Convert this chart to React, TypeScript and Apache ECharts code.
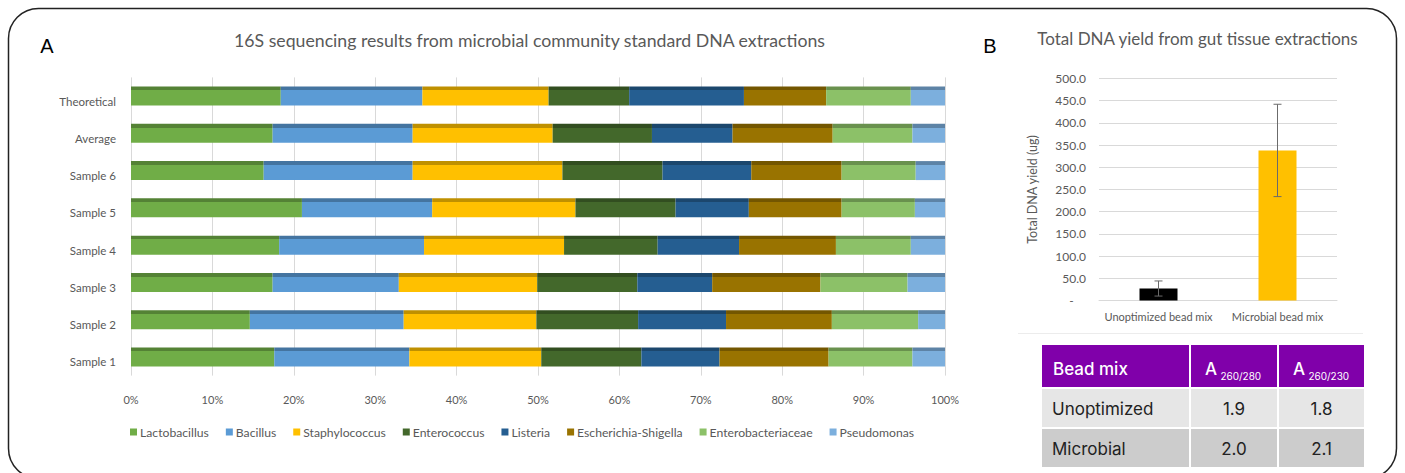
import React, { useEffect, useRef } from 'react';
import * as echarts from 'echarts';

// ---------- Panel A data ----------
const categories = ['Theoretical', 'Average', 'Sample 6', 'Sample 5', 'Sample 4', 'Sample 3', 'Sample 2', 'Sample 1'];
const lactobacillus = [18.4, 17.4, 16.3, 21.0, 18.2, 17.4, 14.6, 17.6];
const bacillus = [17.4, 17.2, 18.3, 16.0, 17.8, 15.5, 18.9, 16.6];
const staphylococcus = [15.5, 17.2, 18.4, 17.6, 17.2, 17.0, 16.3, 16.2];
const enterococcus = [9.9, 12.2, 12.3, 12.3, 11.5, 12.3, 12.5, 12.3];
const listeria = [14.1, 9.9, 10.9, 9.0, 10.0, 9.2, 10.8, 9.6];
const escherichiaShigella = [10.1, 12.3, 11.1, 11.4, 11.9, 13.3, 13.0, 13.4];
const enterobacteriaceae = [10.4, 9.8, 9.1, 9.0, 9.2, 10.7, 10.6, 10.3];
const pseudomonas = [4.2, 4.0, 3.6, 3.7, 4.2, 4.6, 3.3, 4.0];
const taxaNames = ['Lactobacillus', 'Bacillus', 'Staphylococcus', 'Enterococcus', 'Listeria', 'Escherichia-Shigella', 'Enterobacteriaceae', 'Pseudomonas'];
const taxaValues = [lactobacillus, bacillus, staphylococcus, enterococcus, listeria, escherichiaShigella, enterobacteriaceae, pseudomonas];
const taxaColors = ['#70AD47', '#5B9BD5', '#FFC000', '#43682B', '#255E91', '#997300', '#8CC168', '#7CAFDD'];
const percentTicks = [0, 10, 20, 30, 40, 50, 60, 70, 80, 90, 100];

// ---------- Panel B data ----------
const yieldCategories = ['Unoptimized bead mix', 'Microbial bead mix'];
const yieldMeans = [27, 338];
const yieldErrors = [17, 104];
const yieldColors = ['#000000', '#FFC000'];
const yieldTicks = [0, 50, 100, 150, 200, 250, 300, 350, 400, 450, 500];

// ---------- Table data ----------
const tableHeaderMain = ['Bead mix', 'A', 'A'];
const tableHeaderSub = ['', '260/280', '260/230'];
const tableRows = [
  ['Unoptimized', '1.9', '1.8'],
  ['Microbial', '2.0', '2.1'],
];

const GRAY = '#595959';
const FONT_A = 'Lato, "Open Sans", sans-serif';
const FONT_T = 'Inter, "Open Sans", sans-serif';

function darker(hex: string, f: number) {
  const n = parseInt(hex.slice(1), 16);
  const r = Math.round(((n >> 16) & 255) * f);
  const g = Math.round(((n >> 8) & 255) * f);
  const b = Math.round((n & 255) * f);
  return `rgb(${r},${g},${b})`;
}

function buildTable() {
  const colX = [1042, 1191, 1279];
  const colW = [147, 86, 85];
  const rowY = [345, 389, 429];
  const rowH = [42, 38, 38];
  const rowFill = ['#8000AA', '#E6E6E6', '#CCCCCC'];
  const els: any[] = [];
  for (let r = 0; r < 3; r++) {
    for (let c = 0; c < 3; c++) {
      els.push({
        type: 'rect',
        shape: { x: colX[c], y: rowY[r], width: colW[c], height: rowH[r] },
        style: { fill: rowFill[r] },
      });
    }
  }
  for (let c = 0; c < 3; c++) {
    const sub = tableHeaderSub[c];
    els.push({
      type: 'text',
      x: c === 0 ? colX[c] + 11 : colX[c] + 14,
      y: rowY[0] + rowH[0] / 2 + 1,
      style: {
        text: sub ? `{m|${tableHeaderMain[c]}} {s|${sub}}` : `{m|${tableHeaderMain[c]}}`,
        verticalAlign: 'middle',
        align: 'left',
        rich: {
          m: { fontSize: 17, fontFamily: FONT_T, fontWeight: 500, fill: '#ffffff', color: '#ffffff', verticalAlign: 'bottom', lineHeight: 20 },
          s: { fontSize: 10, fontFamily: FONT_T, fill: '#ffffff', color: '#ffffff', verticalAlign: 'bottom', lineHeight: 12, padding: [0, 0, -4, 0] },
        },
      },
    });
  }
  tableRows.forEach((row, i) => {
    const r = i + 1;
    row.forEach((cell, c) => {
      els.push({
        type: 'text',
        x: c === 0 ? colX[c] + 10 : colX[c] + colW[c] / 2,
        y: rowY[r] + rowH[r] / 2 + 1,
        style: {
          text: cell,
          fontSize: 17,
          fontFamily: FONT_T,
          fill: '#222222',
          align: c === 0 ? 'left' : 'center',
          verticalAlign: 'middle',
        },
      });
    });
  });
  return els;
}

export default function App() {
  const ref = useRef<HTMLDivElement>(null);
  useEffect(() => {
    document.body.style.margin = '0';
    const chart = echarts.init(ref.current!, null, { renderer: 'svg' });

    const barSeries = taxaNames.map((name, i) => ({
      name,
      type: 'bar',
      stack: 'taxa',
      xAxisIndex: 0,
      yAxisIndex: 0,
      barWidth: 19,
      data: taxaValues[i],
      itemStyle: {
        color: new echarts.graphic.LinearGradient(0, 0, 0, 1, [
          { offset: 0, color: darker(taxaColors[i], 0.75) },
          { offset: 0.2, color: darker(taxaColors[i], 0.75) },
          { offset: 0.2, color: taxaColors[i] },
          { offset: 1, color: taxaColors[i] },
        ]),
      },
    }));

    const option: any = {
      animation: false,
      backgroundColor: '#ffffff',
      textStyle: { fontFamily: FONT_A },
      legend: {
        data: taxaNames.map((n, i) => ({ name: n, itemStyle: { color: taxaColors[i] } })),
        left: 125,
        top: 421,
        icon: 'rect',
        itemWidth: 7,
        itemHeight: 7,
        itemGap: 17,
        textStyle: { fontSize: 12.2, color: GRAY, fontFamily: FONT_A, padding: [0, 0, 0, -2] },
      },
      grid: [
        { left: 131, right: 460, top: 77.4, bottom: 97.4 },
        { left: 1099, right: 68, top: 78.5, bottom: 172.5 },
      ],
      xAxis: [
        {
          type: 'value',
          gridIndex: 0,
          min: percentTicks[0],
          max: percentTicks[percentTicks.length - 1],
          interval: 10,
          axisLine: { show: false },
          axisTick: { show: false },
          splitLine: { lineStyle: { color: '#d9d9d9', width: 1 } },
          axisLabel: { formatter: '{value}%', color: GRAY, fontSize: 11, fontFamily: FONT_A, margin: 18 },
        },
        {
          type: 'category',
          gridIndex: 1,
          data: yieldCategories,
          axisLine: { lineStyle: { color: '#d9d9d9' } },
          axisTick: { show: false },
          axisLabel: { color: GRAY, fontSize: 11, fontFamily: FONT_A, margin: 10, interval: 0, hideOverlap: false },
        },
      ],
      yAxis: [
        {
          type: 'category',
          gridIndex: 0,
          data: categories,
          inverse: true,
          axisLine: { show: false },
          axisTick: { show: false },
          axisLabel: { color: GRAY, fontSize: 11.5, fontFamily: FONT_A, margin: 15, verticalAlign: 'top', lineHeight: 10 },
        },
        {
          type: 'value',
          gridIndex: 1,
          min: yieldTicks[0],
          max: yieldTicks[yieldTicks.length - 1],
          interval: 50,
          name: 'Total DNA yield (ug)',
          nameLocation: 'middle',
          nameGap: 60,
          nameRotate: 90,
          nameTextStyle: { color: GRAY, fontSize: 12.5, fontFamily: FONT_A },
          axisLine: { show: false },
          axisTick: { show: false },
          splitLine: { lineStyle: { color: '#d9d9d9' } },
          axisLabel: {
            color: GRAY,
            fontSize: 12,
            fontFamily: FONT_A,
            margin: 13,
            formatter: (v: number) => (v === 0 ? '-    ' : v.toFixed(1)),
          },
        },
      ],
      series: [
        ...barSeries,
        {
          name: 'Total DNA yield',
          type: 'bar',
          xAxisIndex: 1,
          yAxisIndex: 1,
          barWidth: 38,
          data: yieldMeans.map((v, i) => ({ value: v, itemStyle: { color: yieldColors[i] } })),
        },
        {
          name: 'Error',
          type: 'custom',
          xAxisIndex: 1,
          yAxisIndex: 1,
          z: 10,
          data: yieldMeans.map((m, i) => [i, m - yieldErrors[i], m + yieldErrors[i]]),
          renderItem: (params: any, api: any) => {
            const x = api.value(0);
            const lo = api.coord([x, api.value(1)]);
            const hi = api.coord([x, api.value(2)]);
            const cap = 4;
            const style = { stroke: '#6b6b6b', lineWidth: 1 };
            return {
              type: 'group',
              children: [
                { type: 'line', shape: { x1: hi[0], y1: hi[1], x2: lo[0], y2: lo[1] }, style },
                { type: 'line', shape: { x1: hi[0] - cap, y1: hi[1], x2: hi[0] + cap, y2: hi[1] }, style },
                { type: 'line', shape: { x1: lo[0] - cap, y1: lo[1], x2: lo[0] + cap, y2: lo[1] }, style },
              ],
            };
          },
        },
      ],
      graphic: [
        {
          type: 'rect',
          shape: { x: 8.5, y: 8.5, width: 1388, height: 470, r: 30 },
          style: { fill: 'none', stroke: '#222222', lineWidth: 1.5 },
          silent: true,
        },
        {
          type: 'text', x: 47, y: 46,
          style: { text: 'A', fontSize: 20, fontFamily: '"Liberation Sans", Arial, sans-serif', fill: '#000', align: 'center', verticalAlign: 'middle' },
        },
        {
          type: 'text', x: 990, y: 46,
          style: { text: 'B', fontSize: 20, fontFamily: '"Liberation Sans", Arial, sans-serif', fill: '#000', align: 'center', verticalAlign: 'middle' },
        },
        {
          type: 'text', x: 529.5, y: 40,
          style: { text: '16S sequencing results from microbial community standard DNA extractions', fontSize: 17.7, fontFamily: FONT_A, fill: GRAY, align: 'center', verticalAlign: 'middle' },
        },
        {
          type: 'text', x: 1197.5, y: 38,
          style: { text: 'Total DNA yield from gut tissue extractions', fontSize: 17, fontFamily: FONT_A, fill: GRAY, align: 'center', verticalAlign: 'middle' },
        },
        {
          type: 'line',
          shape: { x1: 1018, y1: 333.5, x2: 1363, y2: 333.5 },
          style: { stroke: '#ececec', lineWidth: 1 },
        },
        ...buildTable(),
      ],
    };

    chart.setOption(option);
    return () => chart.dispose();
  }, []);
  return <div ref={ref} style={{ width: 1405, height: 473 }} />;
}
